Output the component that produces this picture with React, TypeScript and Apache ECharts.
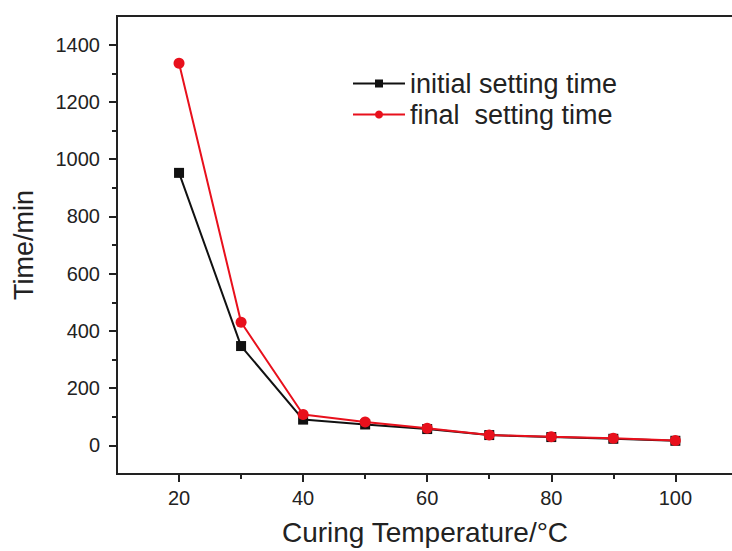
import React, { useEffect, useRef } from "react";
import * as echarts from "echarts";

const temperatures = [20, 30, 40, 50, 60, 70, 80, 90, 100];
const initialSetting = [952, 347, 90, 73, 57, 36, 29, 23, 16];
const finalSetting = [1335, 430, 108, 82, 60, 36, 30, 25, 17];
const xMajorTicks = [20, 40, 60, 80, 100];
const xMinorTicks = [30, 50, 70, 90];
const yMajorTicks = [0, 200, 400, 600, 800, 1000, 1200, 1400];
const yMinorTicks = [100, 300, 500, 700, 900, 1100, 1300];

const FONT = "Liberation Sans, Arial, sans-serif";
const AXIS_COLOR = "#222";

export default function App() {
  const ref = useRef<HTMLDivElement>(null);
  useEffect(() => {
    if (!ref.current) return;
    const chart = echarts.init(ref.current, null, { renderer: "svg" });
    // the plot runs past the right edge of the picture, as in the reference
    const xRange = { min: 10, max: 113 };
    const yRange = { min: -100, max: 1500 };
    const fmt = (v: number) => String(v);
    const hiddenLine = { show: false, onZero: false };
    chart.setOption({
      animation: false,
      backgroundColor: "#fff",
      grid: {
        left: 117, top: 16, width: 639, height: 458,
        outerBoundsMode: "none", containLabel: false,
        show: true, borderColor: AXIS_COLOR, borderWidth: 2, backgroundColor: "transparent",
      },
      legend: {
        orient: "vertical",
        left: 347,
        top: 65,
        itemWidth: 52,
        itemHeight: 10,
        itemGap: 4,
        textStyle: { fontFamily: FONT, fontSize: 27, color: AXIS_COLOR },
        data: ["initial setting time", "final  setting time"],
      },
      xAxis: [
        {
          type: "value",
          ...xRange,
          position: "bottom",
          name: "Curing Temperature/°C",
          nameLocation: "middle",
          nameGap: 44,
          nameTextStyle: { fontFamily: FONT, fontSize: 28, color: AXIS_COLOR, padding: [0, 23, 0, 0] },
          axisLine: { show: true, onZero: false, lineStyle: { color: AXIS_COLOR, width: 2 } },
          axisTick: { show: true, inside: false, length: 8, customValues: xMajorTicks, lineStyle: { color: AXIS_COLOR, width: 2 } },
          axisLabel: { customValues: xMajorTicks, formatter: fmt, margin: 14, fontFamily: FONT, fontSize: 20, color: AXIS_COLOR },
          splitLine: { show: false },
        },
        {
          type: "value",
          ...xRange,
          position: "bottom",
          axisLine: hiddenLine,
          axisTick: { show: true, length: 5, customValues: xMinorTicks, lineStyle: { color: AXIS_COLOR, width: 2 } },
          axisLabel: { show: false },
          splitLine: { show: false },
        },
      ],
      yAxis: [
        {
          type: "value",
          ...yRange,
          position: "left",
          name: "Time/min",
          nameLocation: "middle",
          nameGap: 80,
          nameTextStyle: { fontFamily: FONT, fontSize: 27, color: AXIS_COLOR },
          axisLine: { show: true, onZero: false, lineStyle: { color: AXIS_COLOR, width: 2 } },
          axisTick: { show: true, length: 8, customValues: yMajorTicks, lineStyle: { color: AXIS_COLOR, width: 2 } },
          axisLabel: { customValues: yMajorTicks, formatter: fmt, margin: 17, fontFamily: FONT, fontSize: 20, color: AXIS_COLOR },
          splitLine: { show: false },
        },
        {
          type: "value",
          ...yRange,
          position: "left",
          axisLine: hiddenLine,
          axisTick: { show: true, length: 5, customValues: yMinorTicks, lineStyle: { color: AXIS_COLOR, width: 2 } },
          axisLabel: { show: false },
          splitLine: { show: false },
        },
      ],
      series: [
        {
          name: "initial setting time",
          type: "line",
          xAxisIndex: 0,
          yAxisIndex: 0,
          data: temperatures.map((t, i) => [t, initialSetting[i]]),
          symbol: "rect",
          symbolSize: 10,
          itemStyle: { color: "#111" },
          lineStyle: { color: "#111", width: 2 },
        },
        {
          name: "final  setting time",
          type: "line",
          xAxisIndex: 0,
          yAxisIndex: 0,
          data: temperatures.map((t, i) => [t, finalSetting[i]]),
          symbol: "circle",
          symbolSize: 11,
          itemStyle: { color: "#e8101c" },
          lineStyle: { color: "#e8101c", width: 2 },
        },
      ],
    });
    return () => chart.dispose();
  }, []);
  return <div ref={ref} style={{ width: 780, height: 551, position: "fixed", left: 0, top: 0 }} />;
}
